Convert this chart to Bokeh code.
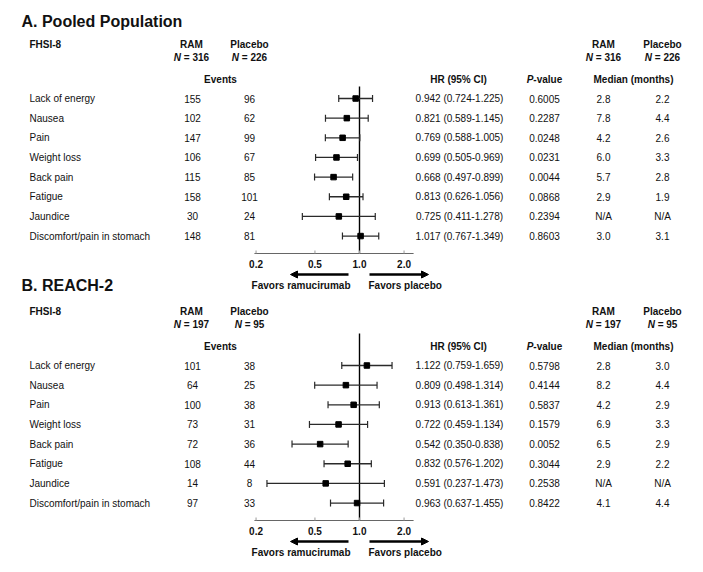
from bokeh.plotting import figure
from bokeh.models import Range1d, LogScale, Arrow, NormalHead
from bokeh.core.properties import value
from bokeh.embed import file_html
from bokeh.resources import INLINE

FONT = "Liberation Sans"

# ---------------- data ----------------
items = ["Lack of energy", "Nausea", "Pain", "Weight loss", "Back pain",
         "Fatigue", "Jaundice", "Discomfort/pain in stomach"]

a_title = "A. Pooled Population"
a_ram_n, a_pbo_n = 316, 226
a_ram_events = [155, 102, 147, 106, 115, 158, 30, 148]
a_pbo_events = [96, 62, 99, 67, 85, 101, 24, 81]
a_hr = [0.942, 0.821, 0.769, 0.699, 0.668, 0.813, 0.725, 1.017]
a_lo = [0.724, 0.589, 0.588, 0.505, 0.497, 0.626, 0.411, 0.767]
a_hi = [1.225, 1.145, 1.005, 0.969, 0.899, 1.056, 1.278, 1.349]
a_p = ["0.6005", "0.2287", "0.0248", "0.0231", "0.0044", "0.0868", "0.2394", "0.8603"]
a_med_ram = ["2.8", "7.8", "4.2", "6.0", "5.7", "2.9", "N/A", "3.0"]
a_med_pbo = ["2.2", "4.4", "2.6", "3.3", "2.8", "1.9", "N/A", "3.1"]

b_title = "B. REACH-2"
b_ram_n, b_pbo_n = 197, 95
b_ram_events = [101, 64, 100, 73, 72, 108, 14, 97]
b_pbo_events = [38, 25, 38, 31, 36, 44, 8, 33]
b_hr = [1.122, 0.809, 0.913, 0.722, 0.542, 0.832, 0.591, 0.963]
b_lo = [0.759, 0.498, 0.613, 0.459, 0.350, 0.576, 0.237, 0.637]
b_hi = [1.659, 1.314, 1.361, 1.134, 0.838, 1.202, 1.473, 1.455]
b_p = ["0.5798", "0.4144", "0.5837", "0.1579", "0.0052", "0.3044", "0.2538", "0.8422"]
b_med_ram = ["2.8", "8.2", "4.2", "6.9", "6.5", "2.9", "N/A", "4.1"]
b_med_pbo = ["3.0", "4.4", "2.9", "3.3", "2.9", "2.2", "N/A", "4.4"]

tick_values = [0.2, 0.5, 1.0, 2.0]
tick_labels = ["0.2", "0.5", "1.0", "2.0"]
axis_start, axis_end = 0.195, 2.32

# ---------------- figure ----------------
W, H = 687, 566
p = figure(width=W, height=H, output_backend="svg", toolbar_location=None,
           x_range=Range1d(0, W), y_range=Range1d(H, 0),
           x_axis_location=None, y_axis_location=None, min_border=0)
p.grid.visible = False
p.outline_line_color = None

# log scale for the hazard ratios: 1.0 at x ~359, ~148 px per decade
ref_px, px_dec = 359.0, 148.0
p.extra_x_ranges = {"hr": Range1d(start=10 ** ((0 - ref_px) / px_dec),
                                  end=10 ** ((W - ref_px) / px_dec))}
p.extra_x_scales = {"hr": LogScale()}

TXT = "#111111"


def txt(xs, ys, texts, align="left", style="normal", size="10px"):
    p.text(x=xs, y=ys, text=texts, text_align=align, text_baseline="middle",
           text_font=value(FONT), text_font_size=size, text_font_style=style,
           text_color=TXT)


def n_label(cx, y, n):
    s = "= %d" % n
    w = 7.22 + 2.78 + 5.84 + 2.78 + 5.56 * len(str(n))
    left = cx - w / 2
    txt([left], [y], ["N"], style="bold italic")
    txt([left + 10.0], [y], [s], style="bold")


def panel(title, title_y, off, ref_top, ram_n, pbo_n, ram_ev, pbo_ev,
          hr, lo, hi, pv, med_r, med_p):
    txt([21], [title_y], [title], style="bold", size="16px")
    hy1, hy2, hy3 = 44 + off, 57 + off, 79 + off
    txt([29], [hy1], ["FHSI-8"], style="bold")
    txt([191], [hy1], ["RAM"], align="center", style="bold")
    n_label(191, hy2, ram_n)
    txt([249], [hy1], ["Placebo"], align="center", style="bold")
    n_label(249, hy2, pbo_n)
    txt([220], [hy3], ["Events"], align="center", style="bold")
    txt([458], [hy3], ["HR (95% CI)"], align="center", style="bold")
    pl = 544 - 17.8
    txt([pl], [hy3], ["P"], style="bold italic")
    txt([pl + 6.67], [hy3], ["-value"], style="bold")
    txt([603], [hy1], ["RAM"], align="center", style="bold")
    n_label(603, hy2, ram_n)
    txt([662], [hy1], ["Placebo"], align="center", style="bold")
    n_label(662, hy2, pbo_n)
    txt([633], [hy3], ["Median (months)"], align="center", style="bold")

    ys = [98 + off + i * 19.65 for i in range(len(items))]
    txt([29] * len(ys), ys, items)
    txt([192] * len(ys), ys, [str(v) for v in ram_ev], align="center")
    txt([249] * len(ys), ys, [str(v) for v in pbo_ev], align="center")
    txt([459] * len(ys), ys,
        ["%.3f (%.3f-%.3f)" % (h, l, u) for h, l, u in zip(hr, lo, hi)],
        align="center")
    txt([544] * len(ys), ys, pv, align="center")
    txt([603] * len(ys), ys, med_r, align="center")
    txt([662] * len(ys), ys, med_p, align="center")

    # forest plot
    ax_y = 253 + off
    p.segment(x0=[1.0], y0=[ref_top], x1=[1.0], y1=[ax_y], x_range_name="hr",
              line_color="#000000", line_width=1.4)
    p.segment(x0=lo, y0=ys, x1=hi, y1=ys, x_range_name="hr",
              line_color="#2a2a2a", line_width=1.3)
    p.segment(x0=lo, y0=[y - 3.5 for y in ys], x1=lo, y1=[y + 3.5 for y in ys],
              x_range_name="hr", line_color="#2a2a2a", line_width=1.2)
    p.segment(x0=hi, y0=[y - 3.5 for y in ys], x1=hi, y1=[y + 3.5 for y in ys],
              x_range_name="hr", line_color="#2a2a2a", line_width=1.2)
    p.scatter(x=hr, y=ys, marker="square", size=5.5, x_range_name="hr",
              fill_color="#000000", line_color="#000000")
    # axis
    p.segment(x0=[axis_start], y0=[ax_y], x1=[axis_end], y1=[ax_y],
              x_range_name="hr", line_color="#666666", line_width=1)
    p.segment(x0=tick_values, y0=[ax_y - 3] * 4, x1=tick_values, y1=[ax_y] * 4,
              x_range_name="hr", line_color="#999999", line_width=1)
    p.text(x=tick_values, y=[263 + off] * 4, text=tick_labels, x_range_name="hr",
           text_align="center", text_baseline="middle", text_font=value(FONT),
           text_font_size="10px", text_font_style="bold", text_color=TXT)
    ay = 274 + off
    p.add_layout(Arrow(end=NormalHead(size=7, fill_color="black", line_color="black"),
                       x_start=348, y_start=ay, x_end=290, y_end=ay,
                       line_width=2.4, line_color="black"))
    p.add_layout(Arrow(end=NormalHead(size=7, fill_color="black", line_color="black"),
                       x_start=369, y_start=ay, x_end=428, y_end=ay,
                       line_width=2.4, line_color="black"))
    txt([350], [285 + off], ["Favors ramucirumab"], align="right", style="bold")
    txt([368], [285 + off], ["Favors placebo"], style="bold")


panel(a_title, 20.5, 0, 86, a_ram_n, a_pbo_n, a_ram_events, a_pbo_events,
      a_hr, a_lo, a_hi, a_p, a_med_ram, a_med_pbo)
panel(b_title, 285, 267, 333, b_ram_n, b_pbo_n, b_ram_events, b_pbo_events,
      b_hr, b_lo, b_hi, b_p, b_med_ram, b_med_pbo)

open("out.html", "w").write(file_html(p, INLINE))
